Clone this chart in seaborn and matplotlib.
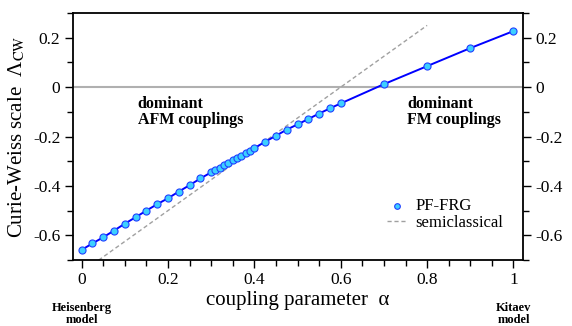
import matplotlib
matplotlib.use("Agg")
import matplotlib.pyplot as plt
from matplotlib.ticker import MultipleLocator
import seaborn as sns
import pandas as pd

# PF-FRG data
alpha = [0, 0.025, 0.05, 0.075, 0.1, 0.125, 0.15, 0.175, 0.2, 0.225, 0.25, 0.275,
         0.3, 0.31, 0.32, 0.33, 0.34, 0.35, 0.36, 0.37, 0.38, 0.39, 0.4,
         0.425, 0.45, 0.475, 0.5, 0.525, 0.55, 0.575, 0.6,
         0.7, 0.8, 0.9, 1.0]
lambda_cw = [-0.659, -0.633, -0.608, -0.581, -0.553, -0.527, -0.500, -0.474, -0.450, -0.423, -0.397, -0.370,
             -0.345, -0.335, -0.326, -0.317, -0.306, -0.297, -0.287, -0.278, -0.268, -0.258, -0.247,
             -0.221, -0.197, -0.172, -0.151, -0.129, -0.107, -0.086, -0.066,
             0.012, 0.085, 0.158, 0.227]

# semiclassical line (end points)
alpha_sc = [0.0, 0.8]
lambda_sc = [-0.75, 0.25]

df = pd.DataFrame({"alpha": alpha, "lcw": lambda_cw})
df_sc = pd.DataFrame({"alpha": alpha_sc, "lcw": lambda_sc})

sns.set_style("white")
plt.rcParams["font.family"] = ["Liberation Serif", "DejaVu Serif"]
plt.rcParams["mathtext.fontset"] = "stix"
plt.rcParams["text.color"] = "black"
plt.rcParams["axes.labelcolor"] = "black"
plt.rcParams["xtick.color"] = "black"
plt.rcParams["ytick.color"] = "black"

fig = plt.figure(figsize=(5.72, 3.26), dpi=100)
ax = fig.add_axes([0.1276, 0.2025, 0.7867, 0.7575])

ax.axhline(0, color="#b0b0b0", lw=1.5, zorder=1)
sns.lineplot(data=df_sc, x="alpha", y="lcw", ax=ax, color="#a0a0a0", lw=1.0,
             linestyle=(0, (3, 2)), label="semiclassical", zorder=2)
sns.lineplot(data=df, x="alpha", y="lcw", ax=ax, color="#0000ff", lw=1.4,
             legend=False, zorder=3)
sns.scatterplot(data=df, x="alpha", y="lcw", ax=ax, color="#3cd0ff", edgecolor="#2040ff",
                linewidth=0.8, s=26, label="PF-FRG", zorder=4)

ax.set_xlim(-0.02, 1.022)
ax.set_ylim(-0.7, 0.3)
ax.xaxis.set_minor_locator(MultipleLocator(0.05))
ax.yaxis.set_minor_locator(MultipleLocator(0.1))
ax.set_xticks([0, 0.2, 0.4, 0.6, 0.8, 1.0], ["0", "0.2", "0.4", "0.6", "0.8", "1"])
ax.set_yticks([-0.6, -0.4, -0.2, 0, 0.2], ["-0.6", "-0.4", "-0.2", "0", "0.2"])
ax.tick_params(which="both", direction="out", left=True, right=True, bottom=True,
               labelright=True, labelsize=12.5, colors="black", width=1.0)
ax.tick_params(which="major", length=6, pad=3)
ax.tick_params(which="minor", length=4)
for sp in ax.spines.values():
    sp.set_color("black")
    sp.set_linewidth(1.3)

ax.set_xlabel("coupling parameter  α", fontsize=15, labelpad=2)
ax.set_ylabel(r"Curie-Weiss scale  Λ$_{\mathrm{CW}}$", fontsize=15, labelpad=4)

ax.text(0.13, -0.035, "dominant\nAFM couplings", fontsize=11.5, fontweight="bold",
        va="top", ha="left", linespacing=1.0)
ax.text(0.754, -0.035, "dominant\nFM couplings", fontsize=11.5, fontweight="bold",
        va="top", ha="left", linespacing=1.0)

ax.text(0.0, -0.87, "Heisenberg\nmodel", fontsize=9, fontweight="bold",
        ha="center", va="top", linespacing=1.0)
ax.text(1.0, -0.87, "Kitaev\nmodel", fontsize=9, fontweight="bold",
        ha="center", va="top", linespacing=1.0)

h, l = ax.get_legend_handles_labels()
order = [l.index("PF-FRG"), l.index("semiclassical")]
ax.legend([h[i] for i in order], [l[i] for i in order], loc="upper left",
          bbox_to_anchor=(0.68, 0.285), frameon=False, fontsize=12,
          handlelength=1.2, handletextpad=0.5, labelspacing=0.05, borderpad=0,
          markerscale=0.8)

fig.savefig("out.png", dpi=100)
